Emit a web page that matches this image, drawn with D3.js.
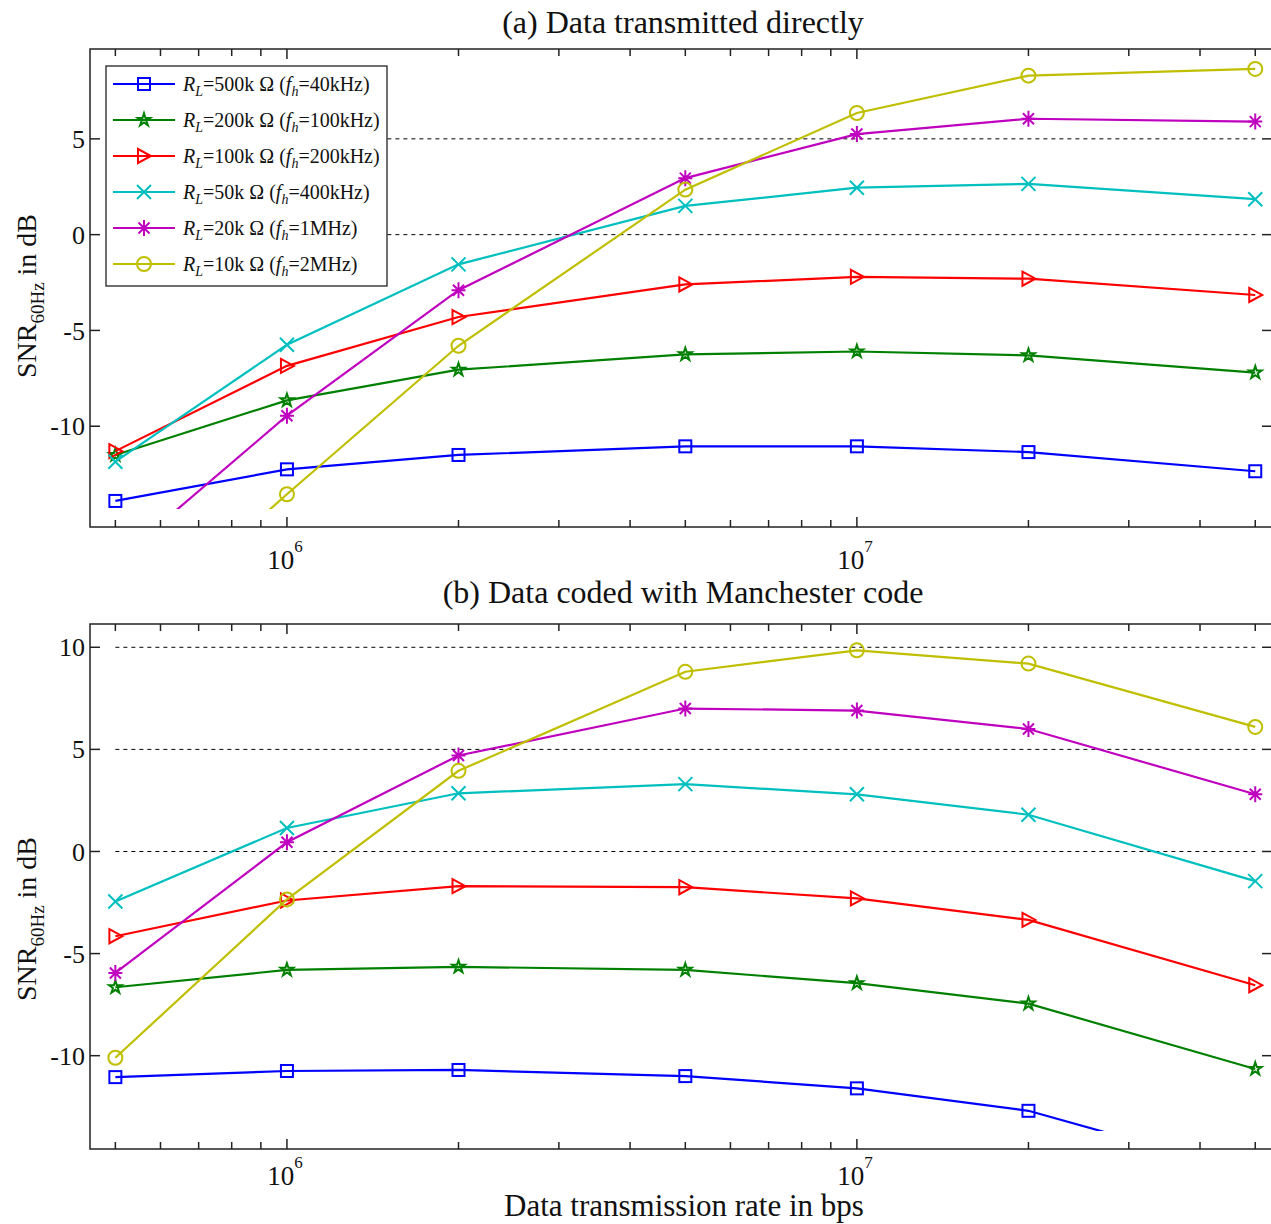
<!DOCTYPE html>
<html>
<head>
<meta charset="utf-8">
<script src="https://cdn.jsdelivr.net/npm/d3@7"></script>
<style>
  body { margin: 0; background: #fff; }
  svg { font-family: "Liberation Serif", "Times New Roman", serif; }
</style>
</head>
<body>
<div class="chart"></div>
<script>
// x positions: data rate in bps
const rates = [5e5, 1e6, 2e6, 5e6, 1e7, 2e7, 5e7];

// legend bits
const loads = ['500k', '200k', '100k', '50k', '20k', '10k'];
const freqs = ['40kHz', '100kHz', '200kHz', '400kHz', '1MHz', '2MHz'];
const colors = ['#0000ff', '#008000', '#ff0000', '#00bfbf', '#bf00bf', '#bfbf00'];
const markers = ['square', 'star', 'triangle', 'x', 'asterisk', 'circle'];

// (a) Data transmitted directly, SNR in dB
const directBlue    = [-13.9, -12.25, -11.5, -11.05, -11.05, -11.35, -12.35];
const directGreen   = [-11.5, -8.65, -7.05, -6.25, -6.1, -6.3, -7.2];
const directRed     = [-11.3, -6.85, -4.3, -2.6, -2.2, -2.3, -3.15];
const directCyan    = [-11.85, -5.75, -1.55, 1.5, 2.45, 2.65, 1.85];
const directMagenta = [-17.1, -9.45, -2.9, 2.95, 5.25, 6.05, 5.9];
const directYellow  = [-21.5, -13.55, -5.8, 2.35, 6.35, 8.3, 8.65];

// (b) Data coded with Manchester code, SNR in dB
const manchBlue    = [-11.05, -10.75, -10.7, -11.0, -11.6, -12.7, -15.8];
const manchGreen   = [-6.65, -5.8, -5.65, -5.8, -6.45, -7.45, -10.65];
const manchRed     = [-4.15, -2.4, -1.7, -1.75, -2.3, -3.35, -6.55];
const manchCyan    = [-2.45, 1.15, 2.85, 3.3, 2.8, 1.8, -1.45];
const manchMagenta = [-5.95, 0.45, 4.7, 7.0, 6.9, 6.0, 2.8];
const manchYellow  = [-10.1, -2.35, 3.95, 8.8, 9.85, 9.2, 6.1];

const yTicksA = [-10, -5, 0, 5];
const yTicksB = [-10, -5, 0, 5, 10];
const gridA = [0, 5];
const gridB = [0, 5, 10];

const W = 1271, H = 1224;
const svg = d3.select('div.chart').append('svg')
  .attr('width', W).attr('height', H);

const x = d3.scaleLog().domain([4.513e5, 5.35e7]).range([90, 1272]);

const panels = [
  { id: 'a', title: '(a) Data transmitted directly', top: 49, bottom: 527,
    yDomain: [-15.26, 9.69], floor: -14.32, ticks: yTicksA, grid: gridA,
    series: [directBlue, directGreen, directRed, directCyan, directMagenta, directYellow],
    titleY: 33, ylabelY: 296, tickLabelY: 569, legend: true },
  { id: 'b', title: '(b) Data coded with Manchester code', top: 624, bottom: 1149,
    yDomain: [-14.57, 11.14], floor: -13.69, ticks: yTicksB, grid: gridB,
    series: [manchBlue, manchGreen, manchRed, manchCyan, manchMagenta, manchYellow],
    titleY: 603, ylabelY: 919, tickLabelY: 1185, legend: false }
];

function drawMarker(g, type, cx, cy, color) {
  const m = g.append('g').attr('transform', `translate(${cx},${cy})`)
    .attr('fill', 'none').attr('stroke', color).attr('stroke-width', 2);
  if (type === 'square') {
    m.append('rect').attr('x', -6).attr('y', -6).attr('width', 12).attr('height', 12);
  } else if (type === 'circle') {
    m.append('circle').attr('r', 7);
  } else if (type === 'star') {
    m.append('path').attr('d', d3.symbol(d3.symbolStar, 50)());
  } else if (type === 'triangle') {
    m.append('path').attr('d', 'M-6,-7L7,0L-6,7Z');
  } else if (type === 'x') {
    m.append('path').attr('d', 'M-7,-7L7,7M-7,7L7,-7');
  } else if (type === 'asterisk') {
    m.append('path').attr('d', 'M0,-8V8M-7,0H7M-5.5,-5.5L5.5,5.5M-5.5,5.5L5.5,-5.5');
  }
}

// minor + major ticks on a log axis
const xTickVals = [];
for (let e = 5; e <= 7; e++) {
  for (let k = 1; k <= 9; k++) {
    const v = k * Math.pow(10, e);
    if (v >= x.domain()[0] && v <= x.domain()[1]) xTickVals.push(v);
  }
}
const isMajor = v => Math.abs(Math.log10(v) - Math.round(Math.log10(v))) < 1e-9;

panels.forEach(p => {
  const y = d3.scaleLinear().domain(p.yDomain).range([p.bottom, p.top]);
  const g = svg.append('g').attr('class', 'panel-' + p.id);
  const [x0, x1] = x.range();

  // clip (lines stop a little above the bottom axis in the original)
  g.append('clipPath').attr('id', 'clip-' + p.id)
    .append('rect').attr('x', x0).attr('y', p.top)
    .attr('width', x1 - x0).attr('height', y(p.floor) - p.top);

  // dashed gridlines
  g.append('g').selectAll('line').data(p.grid).enter().append('line')
    .attr('x1', x(rates[0])).attr('x2', x(rates[rates.length - 1]))
    .attr('y1', d => y(d)).attr('y2', d => y(d))
    .attr('stroke', '#000').attr('stroke-width', 1).attr('stroke-dasharray', '4,4');

  // series
  const line = d3.line().x((d, i) => x(rates[i])).y(d => y(d));
  const plot = g.append('g').attr('clip-path', `url(#clip-${p.id})`);
  p.series.forEach((vals, s) => {
    plot.append('path').datum(vals).attr('d', line)
      .attr('fill', 'none').attr('stroke', colors[s]).attr('stroke-width', 2.2);
    vals.forEach((v, i) => drawMarker(plot, markers[s], x(rates[i]), y(v), colors[s]));
  });

  // frame
  g.append('rect').attr('x', x0).attr('y', p.top)
    .attr('width', x1 - x0).attr('height', p.bottom - p.top)
    .attr('fill', 'none').attr('stroke', '#222').attr('stroke-width', 1.5);

  // x ticks (bottom & top, inward)
  const xt = g.append('g').attr('stroke', '#222').attr('stroke-width', 1.5);
  xTickVals.forEach(v => {
    const len = isMajor(v) ? 10 : 7;
    xt.append('line').attr('x1', x(v)).attr('x2', x(v))
      .attr('y1', p.bottom).attr('y2', p.bottom - len);
    xt.append('line').attr('x1', x(v)).attr('x2', x(v))
      .attr('y1', p.top).attr('y2', p.top + len);
  });
  // x tick labels 10^6, 10^7
  xTickVals.filter(isMajor).forEach(v => {
    const t = g.append('text').attr('x', x(v) - 2).attr('y', p.tickLabelY)
      .attr('text-anchor', 'middle').attr('font-size', 27).attr('fill', '#111');
    t.append('tspan').text('10');
    t.append('tspan').attr('dy', -17).attr('font-size', 17).text(Math.round(Math.log10(v)));
  });

  // y ticks (left & right, inward) + labels
  const yt = g.append('g');
  p.ticks.forEach(v => {
    yt.append('line').attr('x1', x0).attr('x2', x0 + 10)
      .attr('y1', y(v)).attr('y2', y(v)).attr('stroke', '#222').attr('stroke-width', 1.5);
    yt.append('line').attr('x1', x1).attr('x2', x1 - 10)
      .attr('y1', y(v)).attr('y2', y(v)).attr('stroke', '#222').attr('stroke-width', 1.5);
    yt.append('text').attr('x', x0 - 5).attr('y', y(v)).attr('dy', '0.35em')
      .attr('text-anchor', 'end').attr('font-size', 26).attr('fill', '#111').text(v);
  });

  // title
  g.append('text').attr('x', 683).attr('y', p.titleY).attr('text-anchor', 'middle')
    .attr('font-size', 32).attr('fill', '#111').text(p.title);

  // y label
  const yl = g.append('text')
    .attr('transform', `translate(36,${p.ylabelY}) rotate(-90)`)
    .attr('text-anchor', 'middle').attr('font-size', 28).attr('fill', '#111');
  yl.append('tspan').text('SNR');
  yl.append('tspan').attr('dy', 8).attr('font-size', 19).text('60Hz');
  yl.append('tspan').attr('dy', -8).text(' in dB');

  // legend
  if (p.legend) {
    const lg = g.append('g');
    lg.append('rect').attr('x', 106).attr('y', 66).attr('width', 281).attr('height', 220)
      .attr('fill', '#fff').attr('stroke', '#222').attr('stroke-width', 1.3);
    loads.forEach((ld, i) => {
      const ly = 84 + i * 36;
      lg.append('line').attr('x1', 113).attr('x2', 175).attr('y1', ly).attr('y2', ly)
        .attr('stroke', colors[i]).attr('stroke-width', 2.2);
      drawMarker(lg, markers[i], 144, ly, colors[i]);
      const t = lg.append('text').attr('x', 183).attr('y', ly + 7)
        .attr('font-size', 20).attr('fill', '#111');
      t.append('tspan').attr('font-style', 'italic').text('R');
      t.append('tspan').attr('font-style', 'italic').attr('font-size', 14).attr('dy', 5).text('L');
      t.append('tspan').attr('dy', -5).text(`=${ld} Ω (`);
      t.append('tspan').attr('font-style', 'italic').text('f');
      t.append('tspan').attr('font-style', 'italic').attr('font-size', 14).attr('dy', 5).text('h');
      t.append('tspan').attr('dy', -5).text(`=${freqs[i]})`);
    });
  }
});

// x axis label
svg.append('text').attr('x', 684).attr('y', 1216).attr('text-anchor', 'middle')
  .attr('font-size', 31).attr('fill', '#111').text('Data transmission rate in bps');
</script>
</body>
</html>
